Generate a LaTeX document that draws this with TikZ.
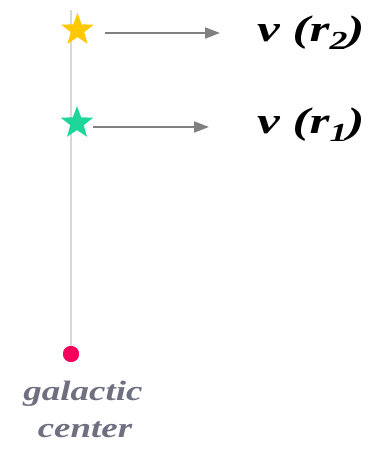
\documentclass[tikz,border=0pt]{standalone}
\usepackage{fontspec}
\usepackage{graphicx}
\setmainfont{Liberation Serif}
\usetikzlibrary{shapes.geometric,arrows.meta}
\definecolor{staryellow}{HTML}{FFC800}
\definecolor{stargreen}{HTML}{1ED69A}
\definecolor{dotred}{HTML}{F5005A}
\definecolor{axisgray}{HTML}{D8D8D8}
\definecolor{arrowgray}{HTML}{808080}
\definecolor{labelgray}{HTML}{6E7080}
\newcommand{\vlab}[1]{\scalebox{1.38}[1]{\fontsize{37}{39}\selectfont\bfseries\itshape ν (r\raisebox{-8pt}{\fontsize{26}{26}\selectfont #1})}}
\newcommand{\gword}[1]{\scalebox{1.32}[1]{#1}}
\tikzset{
  starmark/.style={star, star points=5, star point ratio=2.4, minimum size=34pt, inner sep=0pt, draw=none},
  velarrow/.style={draw=arrowgray, line width=2pt, -{Triangle[length=15pt,width=11pt]}},
  vlabel/.style={anchor=base west, inner sep=0pt},
  gclabel/.style={anchor=base, inner sep=0pt, text=labelgray, font=\fontsize{28}{30}\selectfont\bfseries\itshape}
}
\begin{document}
\begin{tikzpicture}[x=1pt,y=1pt]
\useasboundingbox (0,0) rectangle (378,451);
\coordinate (top) at (71,441);
\node[circle, fill=dotred, minimum size=16pt, inner sep=0pt] (gc) at (71,97) {};
\draw[axisgray, line width=1.8pt] (top) -- (gc.center);
\node[circle, fill=dotred, minimum size=16pt, inner sep=0pt] at (71,97) {};
\node[starmark, fill=staryellow] (s2) at (77.5,421) {};
\node[starmark, fill=stargreen] (s1) at (77,328) {};
\coordinate (b2) at (105,418);
\coordinate (a2) at (220,418);
\coordinate (b1) at (93,324);
\coordinate (a1) at (209,324);
\draw[velarrow] (b2) -- (a2);
\draw[velarrow] (b1) -- (a1);
\node[vlabel] (v2) at (257,409) {\vlab{2}};
\node[vlabel] (v1) at (257,317) {\vlab{1}};
\node[gclabel] (gl) at (83,51) {\gword{galactic}};
\node[gclabel] (gc2) at (85,13) {\gword{center}};
\end{tikzpicture}
\end{document}
